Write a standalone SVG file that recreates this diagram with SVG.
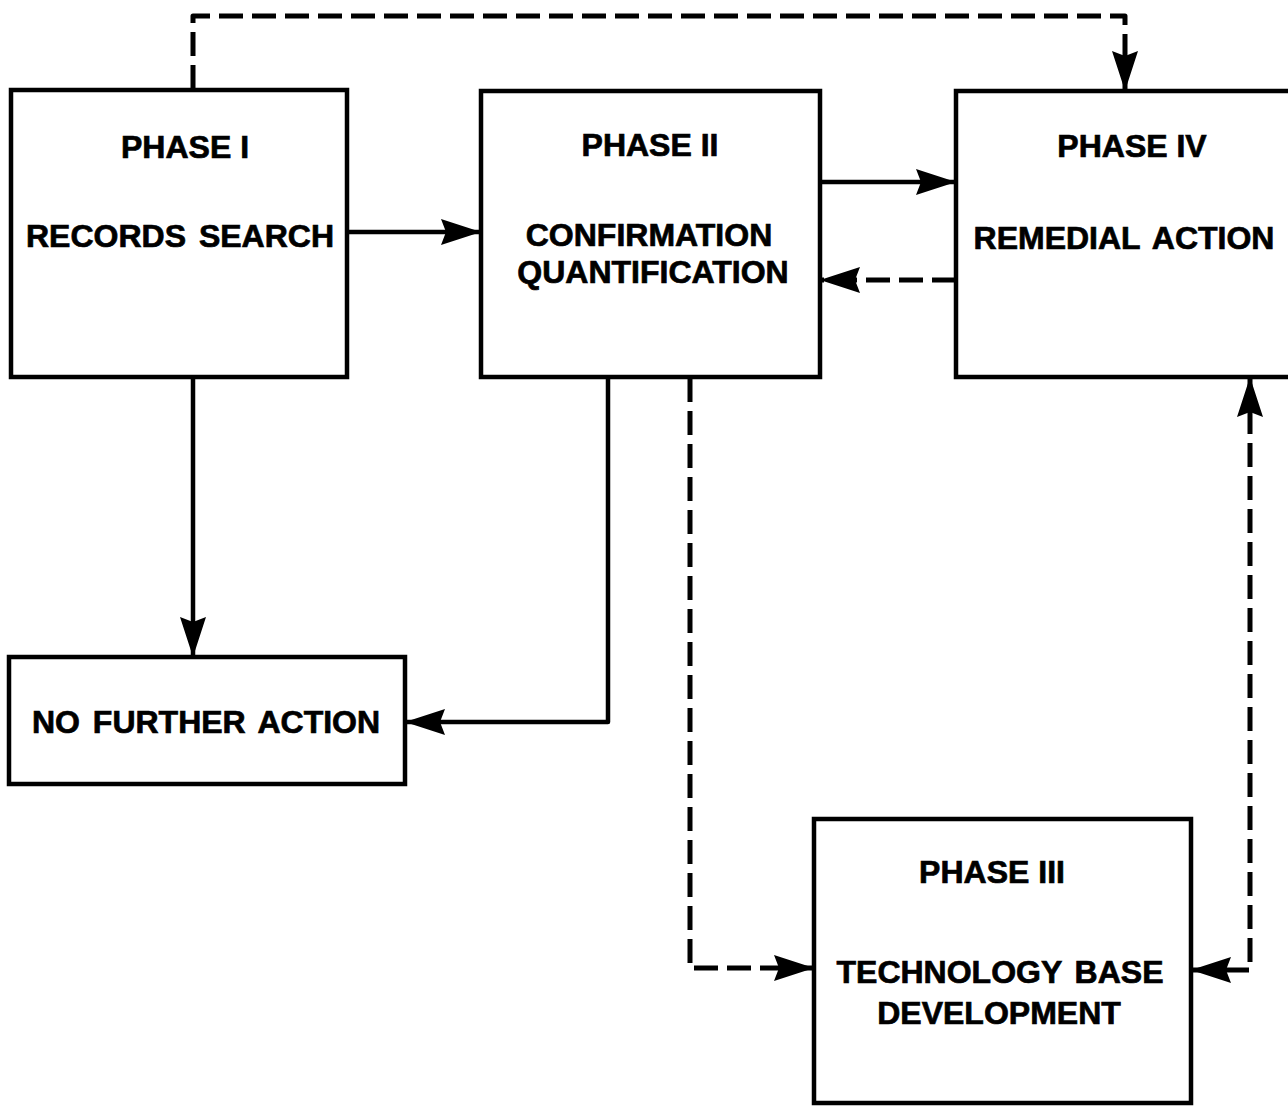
<svg xmlns="http://www.w3.org/2000/svg" width="1288" height="1106" viewBox="0 0 1288 1106">
<style>
.box{fill:#fff;stroke:#000;stroke-width:4.5}
.t{font-family:"Liberation Sans",Arial,sans-serif;font-weight:bold;font-size:32px;fill:#000;stroke:#000;stroke-width:0.7;text-anchor:middle}
.c{fill:none;stroke:#000;stroke-width:4.5;stroke-linejoin:round}
.d{stroke-width:5;stroke-dasharray:24 9}
</style>
<defs>
<marker id="ah" markerUnits="userSpaceOnUse" markerWidth="46" markerHeight="30" refX="42" refY="15" orient="auto-start-reverse">
<path d="M2,2 L42,15 L2,28 L7,15 Z" fill="#000"/>
</marker>
</defs>
<rect width="1288" height="1106" fill="#fff"/>
<g id="connectors">
<path class="c d" d="M193,89 V16 H1125 V91" marker-end="url(#ah)"/>
<path class="c" d="M347,232 H481" marker-end="url(#ah)"/>
<path class="c" d="M193,378 V657" marker-end="url(#ah)"/>
<path class="c" d="M820,182 H956" marker-end="url(#ah)"/>
<path class="c d" d="M956,280 H820" marker-end="url(#ah)"/>
<path class="c" d="M608,378 V722 H405" marker-end="url(#ah)"/>
<path class="c d" d="M690,378 V968 H814" marker-end="url(#ah)"/>
<path class="c d" d="M1250,377 V970 H1191" marker-start="url(#ah)" marker-end="url(#ah)"/>
</g>
<g id="phase1">
<rect class="box" x="11" y="90" width="336" height="287"/>
<text class="t" x="185" y="158">PHASE I</text>
<text class="t" x="180" y="247" word-spacing="4">RECORDS SEARCH</text>
</g>
<g id="phase2">
<rect class="box" x="481" y="91" width="339" height="286"/>
<text class="t" x="650" y="156">PHASE II</text>
<text class="t" x="649" y="246">CONFIRMATION</text>
<text class="t" x="653" y="283">QUANTIFICATION</text>
</g>
<g id="phase4">
<rect class="box" x="956" y="91" width="400" height="286"/>
<text class="t" x="1132" y="157">PHASE IV</text>
<text class="t" x="1124" y="249" word-spacing="4">REMEDIAL ACTION</text>
</g>
<g id="nofurther">
<rect class="box" x="9" y="657" width="396" height="127"/>
<text class="t" x="206" y="733" word-spacing="4">NO FURTHER ACTION</text>
</g>
<g id="phase3">
<rect class="box" x="814" y="819" width="377" height="284"/>
<text class="t" x="992" y="883">PHASE III</text>
<text class="t" x="1000" y="983" word-spacing="4">TECHNOLOGY BASE</text>
<text class="t" x="999" y="1024">DEVELOPMENT</text>
</g>
</svg>
